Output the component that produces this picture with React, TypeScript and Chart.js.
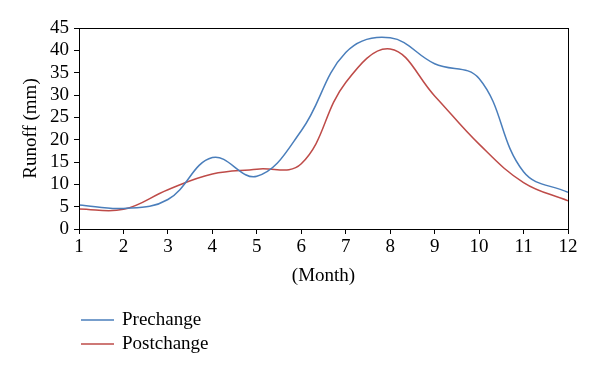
import React, { useEffect, useRef } from "react";
import { Chart, registerables } from "chart.js";

Chart.register(...registerables);

const months = [1, 2, 3, 4, 5, 6, 7, 8, 9, 10, 11, 12];
const prechange = [5.4, 4.6, 6.6, 16.0, 11.8, 22.0, 39.5, 42.8, 37.0, 33.7, 12.8, 8.2];
const postchange = [4.5, 4.4, 8.8, 12.3, 13.4, 14.6, 32.8, 40.3, 29.8, 19.0, 10.4, 6.3];
const seriesNames = ["Prechange", "Postchange"];
const seriesColors = ["#4a7ebb", "#be4b48"];
const yTitle = "Runoff (mm)";
const xTitle = "(Month)";

const FONT = "'Liberation Serif', 'DejaVu Serif', serif";
const FS = 19;

const framePlugin = {
  id: "frameAndLegend",
  afterDraw(chart: any) {
    const { ctx, chartArea } = chart;
    ctx.save();
    ctx.strokeStyle = "#000";
    ctx.lineWidth = 1;
    ctx.strokeRect(
      Math.round(chartArea.left) + 0.5,
      Math.round(chartArea.top) + 0.5,
      Math.round(chartArea.right - chartArea.left),
      Math.round(chartArea.bottom - chartArea.top)
    );
    // legend
    const x0 = chartArea.left + 2;
    const lineLen = 33;
    let y = chartArea.bottom + 91;
    ctx.font = `${FS}px ${FONT}`;
    ctx.textBaseline = "middle";
    ctx.textAlign = "left";
    chart.data.datasets.forEach((ds: any) => {
      ctx.strokeStyle = ds.borderColor;
      ctx.lineWidth = 1.5;
      ctx.beginPath();
      ctx.moveTo(x0, y);
      ctx.lineTo(x0 + lineLen, y);
      ctx.stroke();
      ctx.fillStyle = "#000";
      ctx.fillText(ds.label, x0 + lineLen + 8, y);
      y += 24;
    });
    ctx.restore();
  },
};

export default function App() {
  const ref = useRef<HTMLCanvasElement>(null);
  useEffect(() => {
    document.body.style.margin = "0";
    const ctx = ref.current!.getContext("2d")!;
    const mk = (vals: number[]) => vals.map((v, i) => ({ x: months[i], y: v }));
    const chart = new Chart(ctx, {
      type: "line",
      data: {
        datasets: [
          {
            label: seriesNames[0],
            data: mk(prechange),
            borderColor: seriesColors[0],
            backgroundColor: seriesColors[0],
            borderWidth: 1.5,
            pointRadius: 0,
            tension: 0.4,
            fill: false,
          },
          {
            label: seriesNames[1],
            data: mk(postchange),
            borderColor: seriesColors[1],
            backgroundColor: seriesColors[1],
            borderWidth: 1.5,
            pointRadius: 0,
            tension: 0.4,
            fill: false,
          },
        ],
      },
      options: {
        responsive: false,
        animation: false,
        layout: { padding: { left: 0, right: 32, top: 28, bottom: 89 } },
        plugins: {
          legend: { display: false },
          tooltip: { enabled: false },
        },
        scales: {
          x: {
            type: "linear",
            min: 1,
            max: 12,
            ticks: {
              stepSize: 1,
              color: "#000",
              font: { family: FONT, size: FS },
              padding: 2,
              maxRotation: 0,
              autoSkip: false,
            },
            grid: {
              drawOnChartArea: false,
              drawTicks: true,
              tickLength: 5,
              color: "#000",
            },
            border: { display: true, color: "#000", width: 1 },
            title: {
              display: true,
              text: xTitle,
              color: "#000",
              font: { family: FONT, size: FS },
              padding: { top: 0, bottom: 0 },
            },
            afterFit(scale: any) {
              scale.height = 58;
            },
          },
          y: {
            min: 0,
            max: 45,
            ticks: {
              stepSize: 5,
              color: "#000",
              font: { family: FONT, size: FS },
              padding: 5,
              autoSkip: false,
            },
            grid: {
              drawOnChartArea: false,
              drawTicks: true,
              tickLength: 5,
              color: "#000",
            },
            border: { display: true, color: "#000", width: 1 },
            title: {
              display: true,
              text: yTitle,
              color: "#000",
              font: { family: FONT, size: FS },
              padding: { top: 20, bottom: 0 },
            },
            afterFit(scale: any) {
              scale.width = 79;
            },
          },
        },
      },
      plugins: [framePlugin],
    });
    return () => chart.destroy();
  }, []);
  return (
    <div style={{ width: 600, height: 376, background: "#fff" }}>
      <canvas ref={ref} width={600} height={376} />
    </div>
  );
}
